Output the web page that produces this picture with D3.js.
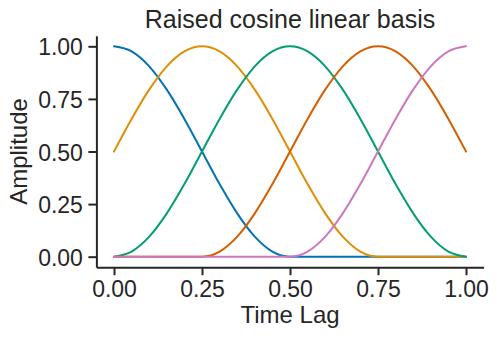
<!DOCTYPE html>
<html>
<head>
<meta charset="utf-8">
<script src="https://cdn.jsdelivr.net/npm/d3@7"></script>
<style>
  html, body { margin: 0; padding: 0; background: #ffffff; }
  svg { display: block; font-family: "Liberation Sans", Arial, Helvetica, sans-serif; }
</style>
</head>
<body>
<svg id="chart" width="498" height="339"></svg>
<script>
// ---- data ----
const timeLag = [0, 0.05, 0.1, 0.15, 0.2, 0.25, 0.3, 0.35, 0.4, 0.45, 0.5,
                 0.55, 0.6, 0.65, 0.7, 0.75, 0.8, 0.85, 0.9, 0.95, 1.0];
const basis1 = [1.0, 0.976, 0.905, 0.794, 0.655, 0.5, 0.345, 0.206, 0.095, 0.024, 0,
                0, 0, 0, 0, 0, 0, 0, 0, 0, 0];
const basis2 = [0.5, 0.655, 0.794, 0.905, 0.976, 1.0, 0.976, 0.905, 0.794, 0.655, 0.5,
                0.345, 0.206, 0.095, 0.024, 0, 0, 0, 0, 0, 0];
const basis3 = [0, 0.024, 0.095, 0.206, 0.345, 0.5, 0.655, 0.794, 0.905, 0.976, 1.0,
                0.976, 0.905, 0.794, 0.655, 0.5, 0.345, 0.206, 0.095, 0.024, 0];
const basis4 = [0, 0, 0, 0, 0, 0, 0.024, 0.095, 0.206, 0.345, 0.5,
                0.655, 0.794, 0.905, 0.976, 1.0, 0.976, 0.905, 0.794, 0.655, 0.5];
const basis5 = [0, 0, 0, 0, 0, 0, 0, 0, 0, 0, 0,
                0.024, 0.095, 0.206, 0.345, 0.5, 0.655, 0.794, 0.905, 0.976, 1.0];
const seriesColors = ["#0173B2", "#DE8F05", "#029E73", "#D55E00", "#CC78BC"];
const xTicks = [0, 0.25, 0.5, 0.75, 1.0];
const yTicks = [0, 0.25, 0.5, 0.75, 1.0];
const titleText = "Raised cosine linear basis";
const xLabel = "Time Lag";
const yLabel = "Amplitude";

// ---- layout ----
const svg = d3.select("#chart");
const plotLeft = 96.4, plotRight = 483.6, plotTop = 35.8, plotBottom = 267.2;
const textColor = "#262626";

const x = d3.scaleLinear().domain([-0.05, 1.05]).range([plotLeft, plotRight]);
const y = d3.scaleLinear().domain([-0.05, 1.05]).range([plotBottom, plotTop]);

const series = [basis1, basis2, basis3, basis4, basis5];

const line = d3.line()
  .x((d, i) => x(timeLag[i]))
  .y(d => y(d))
  .curve(d3.curveMonotoneX);

svg.append("g")
  .selectAll("path")
  .data(series)
  .join("path")
  .attr("d", d => line(d))
  .attr("fill", "none")
  .attr("stroke", (d, i) => seriesColors[i])
  .attr("stroke-width", 2)
  .attr("stroke-linejoin", "round")
  .attr("stroke-linecap", "round");

// axes
const xAxis = d3.axisBottom(x).tickValues(xTicks).tickFormat(d3.format(".2f"))
  .tickSizeOuter(0).tickSizeInner(8).tickPadding(5);
const yAxis = d3.axisLeft(y).tickValues(yTicks).tickFormat(d3.format(".2f"))
  .tickSizeOuter(0).tickSizeInner(8).tickPadding(5.5);

const gx = svg.append("g").attr("transform", `translate(0,${plotBottom})`).call(xAxis);
const gy = svg.append("g").attr("transform", `translate(${plotLeft},0)`).call(yAxis);

[gx, gy].forEach(g => {
  g.select(".domain").attr("stroke", textColor).attr("stroke-width", 2);
  g.selectAll(".tick line").attr("stroke", textColor).attr("stroke-width", 2);
  g.selectAll(".tick text")
    .attr("fill", textColor)
    .style("font-family", '"Liberation Sans", Arial, sans-serif')
    .style("font-size", "23px");
});
gx.selectAll(".tick text").attr("dy", null).attr("y", 29.5);
gy.selectAll(".tick text").attr("dy", "0.37em");

// title & labels
svg.append("text")
  .attr("x", (plotLeft + plotRight) / 2).attr("y", 27.5)
  .attr("text-anchor", "middle")
  .attr("fill", textColor)
  .style("font-size", "25px")
  .text(titleText);

svg.append("text")
  .attr("x", (plotLeft + plotRight) / 2).attr("y", 323)
  .attr("text-anchor", "middle")
  .attr("fill", textColor)
  .style("font-size", "24px")
  .text(xLabel);

svg.append("text")
  .attr("transform", `translate(27,${(plotTop + plotBottom) / 2}) rotate(-90)`)
  .attr("text-anchor", "middle")
  .attr("fill", textColor)
  .style("font-size", "24px")
  .text(yLabel);
</script>
</body>
</html>
